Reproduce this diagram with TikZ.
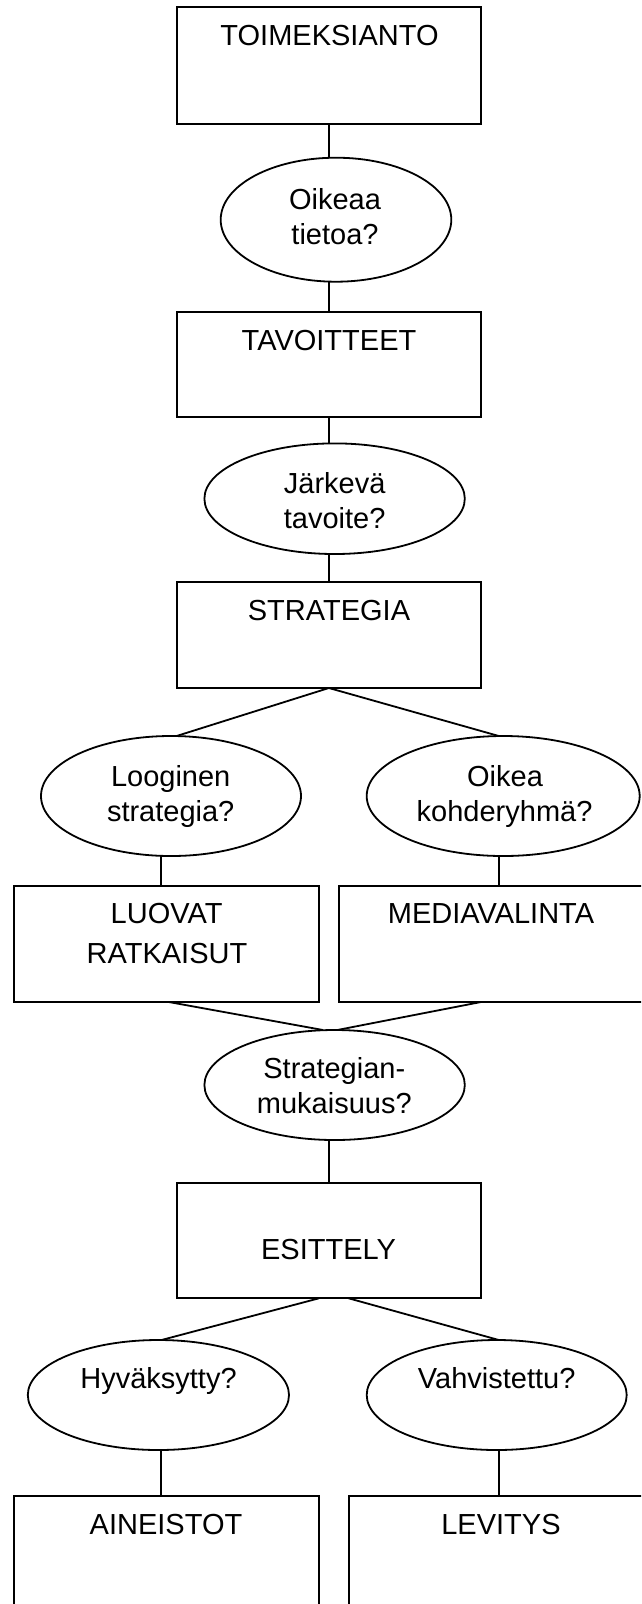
\documentclass[tikz,border=0pt]{standalone}
\usepackage{fontspec}
\setmainfont{Liberation Sans}
\usetikzlibrary{shapes.geometric,calc}

\tikzset{
  box/.style={draw, rectangle, inner sep=0pt, outer sep=0pt, line width=1.8pt},
  oval/.style={draw, ellipse, inner sep=0pt, outer sep=0pt, line width=1.8pt},
  lbl/.style={anchor=base, inner sep=0pt, outer sep=0pt,
              font=\fontsize{29}{35}\selectfont},
  link/.style={line width=1.8pt}
}

\begin{document}
\begin{tikzpicture}[x=1pt, y=-1pt]
  \clip (0,0) rectangle (641,1604);
  \fill[white] (0,0) rectangle (641,1604);

  % boxes
  \node[box, minimum width=304.6pt, minimum height=116.7pt] (b1) at (328.9,65.65) {};
  \node[box, minimum width=304.6pt, minimum height=105.6pt] (b2) at (328.9,364.5) {};
  \node[box, minimum width=304.6pt, minimum height=106pt]   (b3) at (328.9,635) {};
  \node[box, minimum width=305pt,   minimum height=116pt]   (bL) at (166.8,944) {};
  \node[box, minimum width=361pt,   minimum height=116pt]   (bR) at (519.5,944) {};
  \node[box, minimum width=304.6pt, minimum height=115.6pt] (b4) at (328.9,1240.5) {};
  \node[box, minimum width=305pt,   minimum height=144pt]   (bA) at (166.8,1568) {};
  \node[box, minimum width=351.3pt, minimum height=144pt]   (bV) at (524.35,1568) {};

  % decision ovals
  \node[oval, minimum width=230.6pt, minimum height=124pt]   (e1)  at (336,219.7) {};
  \node[oval, minimum width=260.4pt, minimum height=110.6pt] (e2)  at (334.6,498.7) {};
  \node[oval, minimum width=260pt,   minimum height=120pt]   (eL)  at (171,796) {};
  \node[oval, minimum width=273pt,   minimum height=120pt]   (eR)  at (503.2,796) {};
  \node[oval, minimum width=260.4pt, minimum height=110pt]   (e3)  at (334.6,1085) {};
  \node[oval, minimum width=261.2pt, minimum height=110pt]   (eL2) at (158.4,1395) {};
  \node[oval, minimum width=260pt,   minimum height=110pt]   (eR2) at (496.7,1395) {};

  % texts
  \node[lbl] (t1)  at (329.5,45.7)  {TOIMEKSIANTO};
  \node[lbl] (t2a) at (335,209)     {Oikeaa};
  \node[lbl] (t2b) at (335,244)     {tietoa?};
  \node[lbl] (t3)  at (329,350)     {TAVOITTEET};
  \node[lbl] (t4a) at (334.7,493)   {Järkevä};
  \node[lbl] (t4b) at (334.7,528)   {tavoite?};
  \node[lbl] (t5)  at (329,620)     {STRATEGIA};
  \node[lbl] (t6a) at (170.7,786.7) {Looginen};
  \node[lbl] (t6b) at (170.7,821.7) {strategia?};
  \node[lbl] (t7a) at (505,786.7)   {Oikea};
  \node[lbl] (t7b) at (504.6,821.7) {kohderyhmä?};
  \node[lbl] (t8a) at (166.6,923)   {LUOVAT};
  \node[lbl] (t8b) at (167,963)     {RATKAISUT};
  \node[lbl] (t9)  at (491,923)     {MEDIAVALINTA};
  \node[lbl] (t10a) at (334.3,1078) {Strategian-};
  \node[lbl] (t10b) at (334.3,1113) {mukaisuus?};
  \node[lbl] (t11) at (328.5,1259.3) {ESITTELY};
  \node[lbl] (t12) at (158.5,1388)  {Hyväksytty?};
  \node[lbl] (t13) at (496.7,1388)  {Vahvistettu?};
  \node[lbl] (t14) at (166,1534)    {AINEISTOT};
  \node[lbl] (t15) at (501,1534)    {LEVITYS};

  % vertical positions of the side connectors
  \coordinate (xL) at (160.7,0);
  \coordinate (xR) at (498.8,0);

  % connectors
  \draw[link] (b1.south) -- (b1.south |- e1.north);
  \draw[link] (e1.south -| b2.north) -- (b2.north);
  \draw[link] (b2.south) -- (b2.south |- e2.north);
  \draw[link] (e2.south -| b3.north) -- (b3.north);
  \draw[link] (b3.south) -- ($(eL.north)+(5.6,0)$);
  \draw[link] (b3.south) -- ($(eR.north)+(-4.4,0)$);
  \draw[link] (eL.south -| xL) -- (bL.north -| xL);
  \draw[link] (eR.south -| xR) -- (bR.north -| xR);
  \draw[link] ($(bL.south)+(2,0)$) -- ($(e3.north)+(-11.6,0)$);
  \draw[link] ($(bR.south west)+(142,0)$) -- ($(e3.north)+(2.7,0)$);
  \draw[link] (e3.south -| b4.north) -- (b4.north);
  \draw[link] ($(b4.south)+(-10,0)$) -- ($(eL2.north)+(3.1,0)$);
  \draw[link] ($(b4.south)+(19.8,0)$) -- ($(eR2.north)+(2.1,0)$);
  \draw[link] (eL2.south -| xL) -- (bA.north -| xL);
  \draw[link] (eR2.south -| xR) -- (bV.north -| xR);
\end{tikzpicture}
\end{document}
